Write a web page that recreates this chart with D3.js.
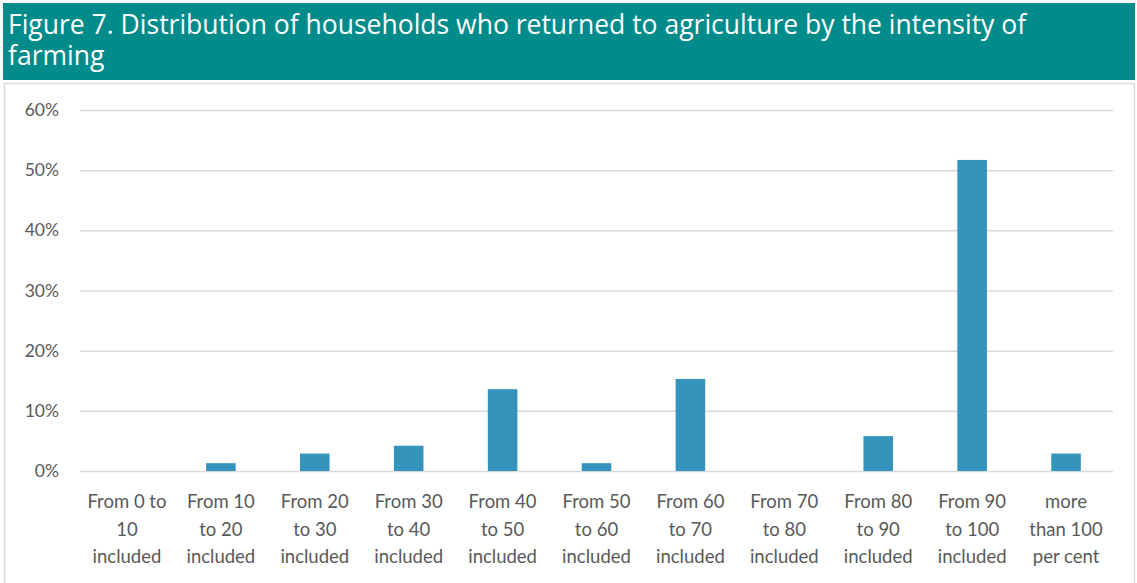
<!DOCTYPE html>
<html>
<head>
<meta charset="utf-8">
<script src="https://cdn.jsdelivr.net/npm/d3@7"></script>
<style>
body { margin: 0; background: #fff; }
svg { display: block; }
</style>
</head>
<body>
<script>
// data
var categories = ["From 0 to|10|included", "From 10|to 20|included", "From 20|to 30|included",
    "From 30|to 40|included", "From 40|to 50|included", "From 50|to 60|included",
    "From 60|to 70|included", "From 70|to 80|included", "From 80|to 90|included",
    "From 90|to 100|included", "more|than 100|per cent"];
var shares = [0, 1.3, 2.9, 4.2, 13.6, 1.3, 15.3, 0, 5.8, 51.7, 2.9];
var yTicks = [0, 10, 20, 30, 40, 50, 60];
var titleLines = ["Figure 7. Distribution of households who returned to agriculture by the intensity of", "farming"];

// globals
var width = 1137, height = 583;
var plotLeft = 80, plotRight = 1113, plotTop = 110, plotBottom = 471;

var svg = d3.select("body").append("svg")
    .attr("width", width)
    .attr("height", height);

// header band
svg.append("rect")
    .attr("x", 3).attr("y", 3)
    .attr("width", 1132).attr("height", 77)
    .attr("fill", "#018b8b");

svg.append("g").selectAll("text")
    .data(titleLines)
    .enter()
    .append("text")
    .attr("x", 8)
    .attr("y", function(d, i) { return 34 + i * 31; })
    .attr("fill", "#fff")
    .style("font-family", "'Open Sans', sans-serif")
    .style("font-size", "26.5px")
    .text(function(d) { return d; });

// chart frame
svg.append("path")
    .attr("d", "M4.5,583 V83.5 H1134.5 V583")
    .attr("fill", "none")
    .attr("stroke", "#d9d9d9")
    .attr("stroke-width", 1.5);

// scales
var x = d3.scaleBand()
    .domain(d3.range(categories.length))
    .range([plotLeft, plotRight]);

var y = d3.scaleLinear()
    .domain([0, 60])
    .range([plotBottom, plotTop]);

// gridlines + y labels
var yAxis = svg.append("g")
    .attr("transform", "translate(" + plotLeft + ",0)")
    .call(d3.axisLeft(y).tickValues(yTicks).tickSize(-(plotRight - plotLeft)).tickFormat(function(d) { return d + "%"; }));
yAxis.select(".domain").remove();
yAxis.selectAll("line").attr("stroke", "#d9d9d9").attr("stroke-width", 1.5);
yAxis.selectAll("text")
    .attr("x", -21)
    .attr("fill", "#595959")
    .style("font-family", "Lato, sans-serif")
    .style("font-size", "17.5px");

// bars
var barW = x.bandwidth() * 0.315;
svg.append("g").selectAll("rect")
    .data(shares)
    .enter()
    .append("rect")
    .attr("x", function(d, i) { return x(i) + (x.bandwidth() - barW) / 2; })
    .attr("y", function(d) { return y(d); })
    .attr("width", barW)
    .attr("height", function(d) { return y(0) - y(d); })
    .attr("fill", "#3594bc");

// x labels
var xl = svg.append("g").selectAll("text")
    .data(categories)
    .enter()
    .append("text")
    .attr("text-anchor", "middle")
    .attr("fill", "#595959")
    .style("font-family", "Lato, sans-serif")
    .style("font-size", "18.5px");

xl.each(function(d, i) {
    var t = d3.select(this);
    d.split("|").forEach(function(line, j) {
        t.append("tspan")
            .attr("x", x(i) + x.bandwidth() / 2)
            .attr("y", 508 + j * 27.5)
            .text(line);
    });
});
</script>
</body>
</html>
